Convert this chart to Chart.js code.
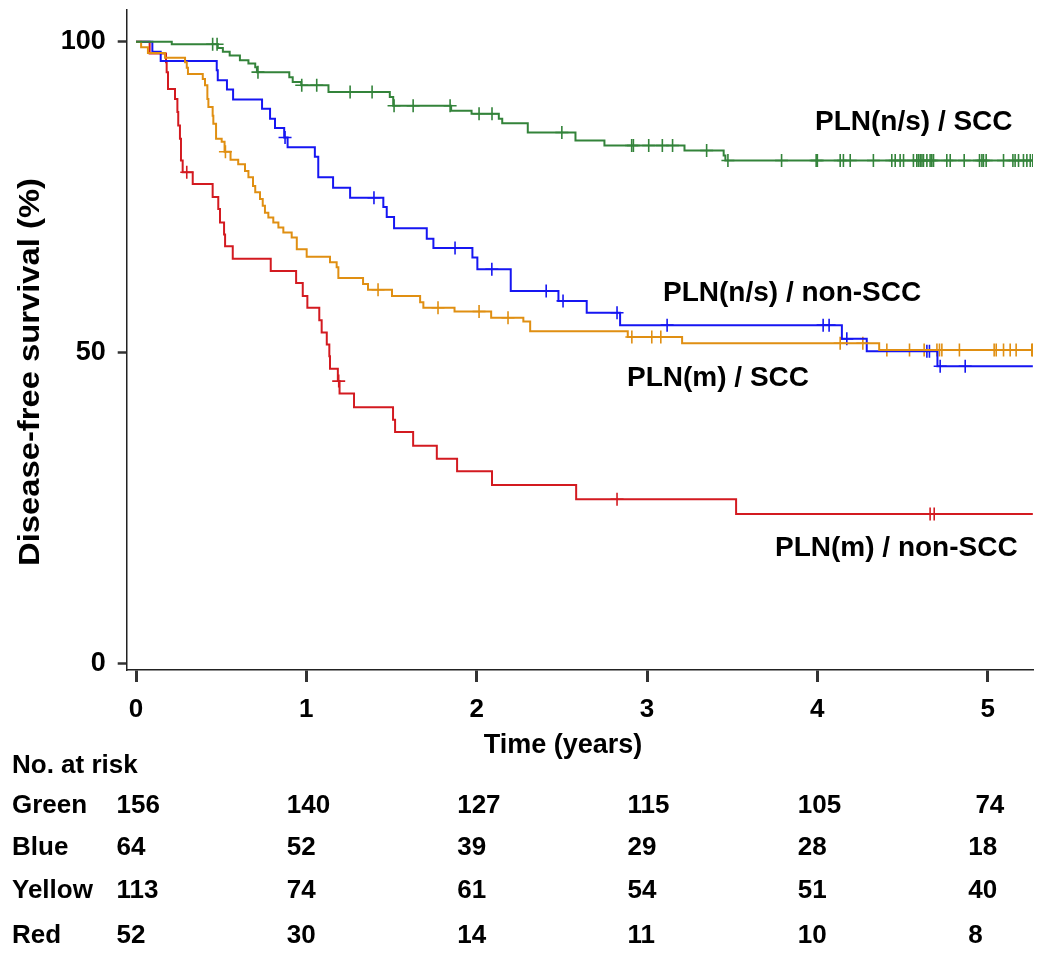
<!DOCTYPE html>
<html>
<head>
<meta charset="utf-8">
<script src="https://cdn.jsdelivr.net/npm/chart.js@4.4.1/dist/chart.umd.min.js"></script>
<style>
html,body{margin:0;padding:0;background:#fff;}
#wrap{width:1050px;height:957px;}
</style>
</head>
<body>
<div id="wrap"><canvas id="c" width="1050" height="957"></canvas></div>
<script>
// ---- tick labels ----
const xTicks = [0, 1, 2, 3, 4, 5];
const yTicks = [0, 50, 100];
const followUpEnd = 5.265;

// ---- Kaplan-Meier curves: event times (years) and survival (%) from that time on ----
const greenT = [0, 0.21, 0.48, 0.51, 0.55, 0.61, 0.66, 0.70, 0.71, 0.90, 0.92, 0.97, 1.13, 1.49, 1.51, 1.85, 1.97, 2.13, 2.15, 2.30, 2.58, 2.75, 3.22, 3.45, 3.46];
const greenS = [100, 99.6, 99.0, 98.4, 97.8, 97.0, 96.5, 95.9, 95.1, 94.3, 93.5, 93.0, 91.9, 91.1, 89.7, 88.9, 88.4, 87.6, 86.9, 85.4, 84.1, 83.3, 82.5, 81.7, 80.9];
const greenCensor = [0.45, 0.476, 0.716, 0.973, 1.061, 1.257, 1.386, 1.515, 1.627, 1.844, 2.014, 2.09, 2.50, 2.91, 2.92, 3.01, 3.09, 3.15, 3.35, 3.475, 3.79, 3.993, 4.0, 4.134, 4.153, 4.193, 4.329, 4.437, 4.457, 4.486, 4.506, 4.564, 4.584, 4.594, 4.604, 4.614, 4.623, 4.643, 4.662, 4.672, 4.682, 4.76, 4.78, 4.862, 4.952, 4.966, 4.975, 4.991, 5.093, 5.148, 5.161, 5.181, 5.21, 5.23, 5.25, 5.265];

const blueT = [0, 0.096, 0.145, 0.474, 0.48, 0.534, 0.57, 0.74, 0.787, 0.816, 0.87, 0.89, 1.05, 1.07, 1.157, 1.257, 1.452, 1.472, 1.515, 1.707, 1.746, 1.975, 2.004, 2.2, 2.48, 2.646, 2.842, 4.144, 4.29, 4.705];
const blueS = [100, 98.4, 96.9, 95.4, 93.8, 92.3, 90.7, 89.2, 87.6, 86.1, 84.6, 83.0, 81.5, 78.2, 76.5, 74.9, 73.4, 71.8, 70.0, 68.3, 66.8, 65.3, 63.4, 59.9, 58.3, 56.4, 54.4, 52.2, 50.2, 47.8];
const blueCensor = [0.875, 1.397, 1.873, 2.089, 2.408, 2.507, 2.824, 3.118, 4.034, 4.069, 4.173, 4.643, 4.658, 4.721, 4.868];

const yellowT = [0, 0.03, 0.07, 0.17, 0.288, 0.298, 0.305, 0.392, 0.405, 0.419, 0.425, 0.45, 0.454, 0.47, 0.503, 0.52, 0.555, 0.60, 0.64, 0.66, 0.687, 0.70, 0.728, 0.744, 0.757, 0.777, 0.806, 0.836, 0.865, 0.914, 0.944, 1.002, 1.139, 1.178, 1.188, 1.333, 1.362, 1.503, 1.668, 1.687, 1.87, 2.085, 2.274, 2.314, 2.887, 3.206, 4.363];
const yellowS = [100, 99.1, 98.2, 97.4, 96.7, 95.8, 94.8, 94.0, 93.0, 90.8, 89.5, 88.1, 86.8, 84.4, 83.9, 82.3, 81.0, 80.3, 79.2, 78.2, 76.8, 75.8, 74.7, 73.6, 72.5, 71.7, 70.9, 70.1, 69.3, 68.5, 66.6, 65.4, 64.5, 63.7, 62.0, 61.0, 60.1, 59.1, 58.1, 57.2, 56.6, 55.6, 55.0, 53.4, 52.5, 51.5, 50.4];
const yellowCensor = [0.525, 1.421, 1.773, 2.014, 2.184, 2.911, 3.028, 3.081, 4.134, 4.267, 4.408, 4.541, 4.627, 4.702, 4.717, 4.731, 4.834, 5.038, 5.05, 5.093, 5.132, 5.167, 5.259, 5.265];

const redT = [0, 0.08, 0.176, 0.18, 0.188, 0.229, 0.243, 0.248, 0.258, 0.264, 0.274, 0.333, 0.45, 0.483, 0.493, 0.517, 0.523, 0.568, 0.791, 0.94, 0.979, 1.006, 1.076, 1.09, 1.12, 1.135, 1.139, 1.185, 1.195, 1.28, 1.509, 1.521, 1.627, 1.766, 1.885, 2.09, 2.584, 3.523];
const redS = [100, 98.1, 96.7, 95.1, 92.4, 90.8, 88.7, 86.5, 84.4, 80.9, 79.0, 77.1, 75.0, 73.1, 70.9, 69.0, 67.1, 65.1, 63.1, 61.2, 59.1, 57.2, 55.2, 53.2, 51.3, 49.4, 47.4, 45.4, 43.4, 41.2, 39.2, 37.2, 35.0, 32.9, 30.9, 28.7, 26.4, 24.0];
const redCensor = [0.298, 1.19, 2.824, 4.662, 4.686];

// ---- curve labels ----
const curveLabels = ['PLN(n/s) / SCC', 'PLN(n/s) / non-SCC', 'PLN(m) / SCC', 'PLN(m) / non-SCC'];

// ---- number at risk ----
const riskTitle = 'No. at risk';
const riskRows = ['Green', 'Blue', 'Yellow', 'Red'];
const riskGreen = ['156', '140', '127', '115', '105', ' 74'];
const riskBlue = ['64', '52', '39', '29', '28', '18'];
const riskYellow = ['113', '74', '61', '54', '51', '40'];
const riskRed = ['52', '30', '14', '11', '10', '8'];

const xTitle = 'Time (years)';
const yTitle = 'Disease-free survival (%)';

// ---------------------------------------------------------------
const COL = {green: '#33833a', blue: '#1616f2', yellow: '#e08f12', red: '#d31a20'};
const FONT = "'Liberation Sans', Arial, Helvetica, sans-serif";
Chart.defaults.font.family = FONT;

function survAt(T, S, t) { let v = S[0]; for (let i = 0; i < T.length; i++) { if (T[i] <= t) v = S[i]; } return v; }
function curve(T, S) { const p = T.map((t, i) => ({x: t, y: S[i]})); p.push({x: followUpEnd, y: S[S.length - 1]}); return p; }
function marks(T, S, C) { return C.map(t => ({x: t, y: survAt(T, S, t)})); }

function lineDs(data, color) {
  return {type: 'line', data, borderColor: color, borderWidth: 2, stepped: true, pointRadius: 0, fill: false, tension: 0};
}
function censorDs(data, color) {
  return {type: 'line', data, showLine: false, borderColor: color, backgroundColor: color, pointStyle: 'cross', pointRadius: 6.5, pointBorderWidth: 1.6, pointHoverRadius: 6.5};
}

const overlay = {
  id: 'overlay',
  afterDraw(chart) {
    const ctx = chart.ctx;
    const xs = chart.scales.x;
    ctx.save();
    ctx.fillStyle = '#000';
    // curve labels
    ctx.font = 'bold 28px ' + FONT;
    ctx.textBaseline = 'middle';
    ctx.textAlign = 'left';
    const lp = [[815, 122.5], [663, 293], [627, 378], [775, 548]];
    curveLabels.forEach((t, i) => ctx.fillText(t, lp[i][0], lp[i][1]));
    // x title
    ctx.font = 'bold 27px ' + FONT;
    ctx.textAlign = 'center';
    ctx.fillText(xTitle, 563, 746);
    // y title
    ctx.save();
    ctx.translate(31, 372);
    ctx.rotate(-Math.PI / 2);
    ctx.font = 'bold 29px ' + FONT;
    const w = ctx.measureText(yTitle).width;
    ctx.scale(388 / w, 1);
    ctx.fillText(yTitle, 0, 0);
    ctx.restore();
    // risk table
    ctx.font = 'bold 26px ' + FONT;
    ctx.textAlign = 'left';
    ctx.fillText(riskTitle, 12, 766);
    const rows = [riskGreen, riskBlue, riskYellow, riskRed];
    const ry = [805.5, 848, 890.5, 935.5];
    rows.forEach((r, i) => {
      ctx.fillText(riskRows[i], 12, ry[i]);
      r.forEach((v, j) => ctx.fillText(v, xs.getPixelForValue(xTicks[j]) - 19.5, ry[i]));
    });
    ctx.restore();
  }
};

new Chart(document.getElementById('c'), {
  type: 'line',
  data: {
    datasets: [
      lineDs(curve(greenT, greenS), COL.green),
      lineDs(curve(yellowT, yellowS), COL.yellow),
      lineDs(curve(blueT, blueS), COL.blue),
      lineDs(curve(redT, redS), COL.red),
      censorDs(marks(greenT, greenS, greenCensor), COL.green),
      censorDs(marks(yellowT, yellowS, yellowCensor), COL.yellow),
      censorDs(marks(blueT, blueS, blueCensor), COL.blue),
      censorDs(marks(redT, redS, redCensor), COL.red)
    ]
  },
  options: {
    responsive: false,
    animation: false,
    devicePixelRatio: 1,
    layout: {padding: {left: 0, right: 17, top: 10, bottom: 227}},
    plugins: {legend: {display: false}, tooltip: {enabled: false}},
    events: [],
    scales: {
      x: {
        type: 'linear', min: -0.0546, max: 5.266,
        afterBuildTicks: s => { s.ticks = xTicks.map(v => ({value: v})); },
        afterFit: s => { s.height = 60; s.paddingLeft = 0; s.paddingRight = 0; },
        ticks: {color: '#000', font: {size: 26, weight: 'bold'}, padding: 12, maxRotation: 0, autoSkip: false, callback: v => String(v)},
        grid: {display: true, drawOnChartArea: false, drawTicks: true, tickLength: 12, tickWidth: 3, tickColor: '#333'},
        border: {display: true, color: '#222', width: 1.5}
      },
      y: {
        type: 'linear', min: -1.078, max: 105.1,
        afterBuildTicks: s => { s.ticks = yTicks.map(v => ({value: v})); },
        afterFit: s => { s.width = 126.7; s.paddingTop = 0; s.paddingBottom = 0; },
        ticks: {color: '#000', font: {size: 27, weight: 'bold'}, padding: 12, callback: v => String(v)},
        grid: {display: true, drawOnChartArea: false, drawTicks: true, tickLength: 9, tickWidth: 2.5, tickColor: '#333'},
        border: {display: true, color: '#222', width: 1.5}
      }
    }
  },
  plugins: [overlay]
});
</script>
</body>
</html>
